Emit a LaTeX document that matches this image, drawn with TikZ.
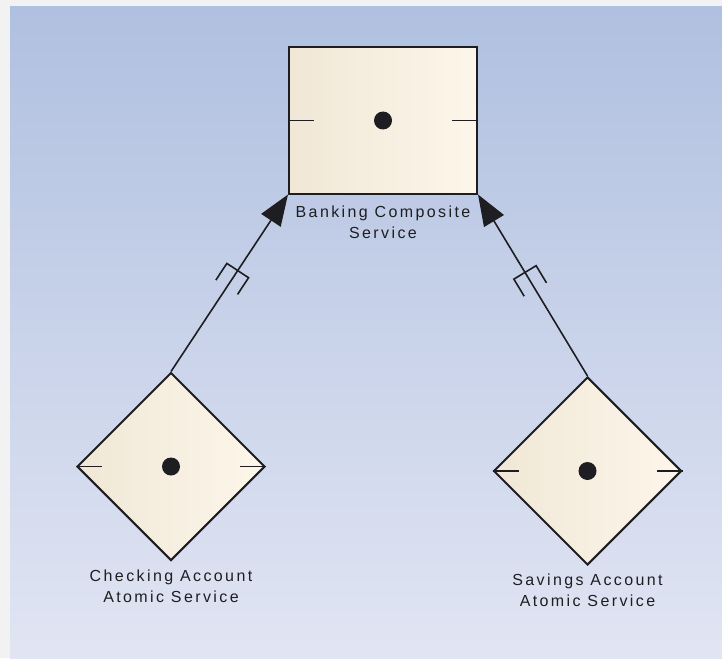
\documentclass[tikz,border=0pt]{standalone}
\usepackage{fontspec}
\newfontfamily\uifont[LetterSpace=15]{Liberation Sans}
\usepackage{tikz}
\usetikzlibrary{
  shapes.geometric,
  positioning,
  arrows.meta,
  decorations.markings
}
\definecolor{bgtop}{RGB}{176,192,224}
\definecolor{bgbottom}{RGB}{225,229,243}
\definecolor{frame}{RGB}{242,242,242}
\definecolor{creamdark}{RGB}{240,231,214}
\definecolor{creamlight}{RGB}{253,246,234}
\definecolor{ink}{RGB}{30,30,34}

\begin{document}
\begin{tikzpicture}[
      x=1pt,y=-1pt,
      service/.style={
         draw=ink,
         line width=2pt,
         left color=creamdark,
         right color=creamlight,
         inner sep=0pt
      },
      composite/.style={
         service,
         rectangle,
         minimum width=188pt,
         minimum height=146pt
      },
      atomic/.style={
         service,
         diamond,
         minimum width=188pt,
         minimum height=188pt
      },
      caption/.style={
         font=\uifont\fontsize{16}{21}\selectfont,
         align=center,
         inner sep=0pt,
         text=ink
      },
      realize/.style={
         draw=ink,
         line width=1.6pt,
         -{Triangle[length=31pt,width=23pt]},
         postaction={decorate},
         decoration={markings,
            mark=at position 121pt with {
               \draw[-,ink,line width=1.6pt] (-20pt,-13pt) -- (0pt,-13pt)
                  -- (0pt,13pt) -- (-20pt,13pt);
            }
         }
      }
    ]
    % background
    \useasboundingbox (0,0) rectangle (722,658);
    \fill[frame] (0,0) rectangle (722,658);
    \shade[top color=bgtop, bottom color=bgbottom] (10,7) rectangle (722,658);

    % services
    \node (composite) [composite] at (383,120.5) {};
    \node (checking) [atomic] at (171,466.5) {};
    \node (savings) [atomic] at (587.5,471) {};

    \foreach \n in {composite,checking,savings} {
       \fill[ink] (\n.center) circle (9);
       \draw[ink,line width=1.6pt] (\n.west) -- ++(26,0);
       \draw[ink,line width=1.6pt] (\n.east) -- ++(-26,0);
    }

    % captions
    \node (compositecap) [caption, below=11pt of composite] {Banking Composite\\Service};
    \node (checkingcap) [caption, below=8pt of checking] {Checking Account\\Atomic Service};
    \node (savingscap) [caption, below=8pt of savings] {Savings Account\\Atomic Service};

    % realizations
    \draw[realize] (checking.north) -- (composite.south west);
    \draw[realize] (savings.north) -- (composite.south east);
\end{tikzpicture}
\end{document}
